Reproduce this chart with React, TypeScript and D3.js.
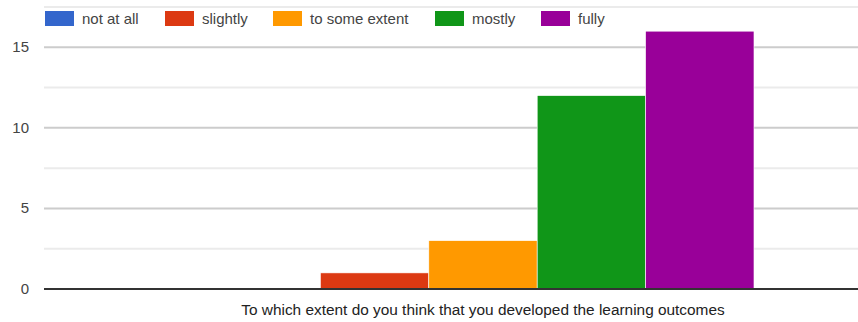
import React from "react";
import * as d3 from "d3";

const categories = ["To which extent do you think that you developed the learning outcomes"];
const seriesNames = ["not at all", "slightly", "to some extent", "mostly", "fully"];
const seriesColors = ["#3366cc", "#dc3912", "#ff9900", "#109618", "#990099"];
const seriesValues = [0, 1, 3, 12, 16];
const majorTicks = [0, 5, 10, 15];
const minorTicks = [2.5, 7.5, 12.5, 17.5];

const W = 858;
const H = 322;
const left = 44;
const plotRight = 922;
const top = 7;
const baseline = 289;

export default function App() {
  const y = d3.scaleLinear().domain([0, 17.5]).range([baseline, top]);
  const x = d3.scaleBand().domain(categories).range([left, plotRight]).paddingOuter(0.31);
  const inner = d3.scaleBand().domain(seriesNames).range([x(categories[0])!, x(categories[0])! + x.bandwidth()]);

  const legendX = [45, 165, 273, 435, 541];
  const font = "'Liberation Sans', Arial, sans-serif";

  return (
    <svg width={W} height={H} style={{ position: "absolute", left: 0, top: 0, background: "#fff" }}>
      {minorTicks.map((t) => (
        <line key={"m" + t} x1={left} x2={W} y1={y(t)} y2={y(t)} stroke="#ebebeb" strokeWidth={2} />
      ))}
      {majorTicks.filter((t) => t !== 0).map((t) => (
        <line key={"M" + t} x1={left} x2={W} y1={y(t)} y2={y(t)} stroke="#cccccc" strokeWidth={2} />
      ))}
      {majorTicks.map((t) => (
        <text key={"t" + t} x={29} y={y(t) + 5} textAnchor="end" fontFamily={font} fontSize={15} fill="#444">
          {t}
        </text>
      ))}
      {seriesNames.map((s, i) => {
        const v = seriesValues[i];
        if (v <= 0) return null;
        return (
          <rect
            key={s}
            x={inner(s)!}
            y={y(v)}
            width={inner.bandwidth()}
            height={baseline - y(v)}
            fill={seriesColors[i]}
            stroke="#ffffff"
            strokeWidth={0.6}
          />
        );
      })}
      <line x1={left} x2={W} y1={baseline} y2={baseline} stroke="#333" strokeWidth={2} />
      <text x={483} y={315} textAnchor="middle" fontFamily={font} fontSize={15.4} fill="#222">
        {categories[0]}
      </text>
      {seriesNames.map((s, i) => (
        <g key={"lg" + s}>
          <rect x={legendX[i]} y={11} width={29} height={15} fill={seriesColors[i]} />
          <text x={legendX[i] + 37} y={24} fontFamily={font} fontSize={15} fill="#444">
            {s}
          </text>
        </g>
      ))}
    </svg>
  );
}
